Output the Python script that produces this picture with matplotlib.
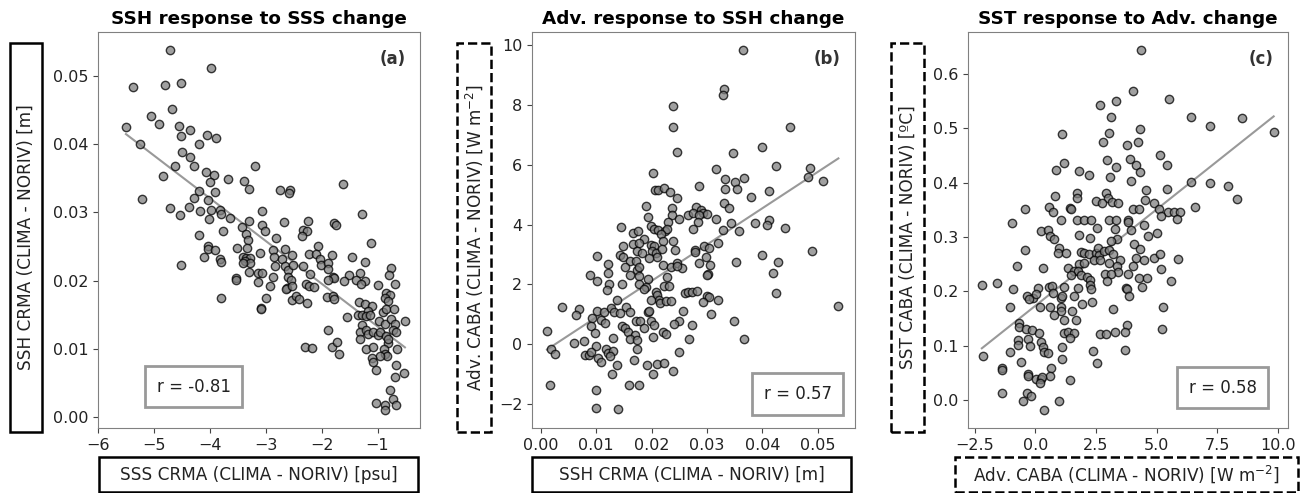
import numpy as np
import matplotlib
matplotlib.use('Agg')
from matplotlib import pyplot as plt
from matplotlib.patches import Rectangle

# panel (a): SSS CRMA vs SSH CRMA
sss_a = [-4.72, -3.98, -5.37, -4.81, -4.52, -4.68, -5.50, -5.06, -4.91, -4.55, -4.35, -4.51, -4.05, -3.89,
         -5.25, -4.20, -4.50, -4.35, -4.28, -4.62, -3.20, -4.83, -4.07, -3.92, -4.00, -3.67, -3.39, -5.21,
         -4.19, -4.29, -4.03, -3.91, -3.29, -2.75, -2.56, -2.58, -1.61, -4.71, -4.53, -4.37, -4.17, -3.98,
         -3.82, -3.80, -4.01, -3.64, -3.07, -1.27, -3.77, -3.42, -3.30, -3.06, -3.02, -2.68, -2.24, -1.78,
         -1.75, -2.34, -2.26, -4.20, -3.36, -3.32, -2.81, -2.35, -1.12, -4.03, -4.03, -3.91, -3.52, -3.34,
         -4.10, -3.81, -3.80, -4.51, -3.41, -3.35, -3.28, -3.11, -2.87, -2.65, -2.53, -2.07, -2.22, -2.10,
         -2.03, -1.81, -1.45, -1.23, -3.37, -3.28, -3.40, -2.85, -2.70, -2.83, -2.65, -2.61, -2.51, -2.34,
         -2.01, -1.88, -3.29, -3.13, -3.07, -3.54, -3.54, -2.87, -2.61, -2.54, -2.20, -1.88, -1.79, -1.77,
         -1.51, -1.60, -1.32, -1.39, -1.23, -1.29, -3.13, -2.93, -2.62, -2.63, -2.53, -2.28, -2.22, -2.13,
         -1.88, -1.00, -0.75, -0.79, -0.68, -3.80, -3.00, -2.53, -2.46, -2.40, -2.27, -1.91, -1.79, -1.77,
         -3.09, -3.08, -1.33, -1.23, -1.10, -0.85, -0.77, -0.87, -0.81, -1.55, -1.35, -1.27, -1.17, -1.20,
         -1.14, -0.90, -0.84, -0.70, -0.97, -0.87, -0.75, -0.68, -0.51, -1.27, -1.32, -1.21, -1.17, -1.08,
         -1.00, -0.96, -0.84, -0.73, -0.67, -0.82, -0.89, -0.66, -1.21, -1.08, -0.87, -0.83, -0.95, -1.89,
         -1.82, -1.73, -1.69, -2.29, -2.18, -1.10, -1.08, -1.03, -0.67, -0.68, -0.53, -0.78, -1.03, -0.87,
         -0.86, -0.72, -0.67, -1.32, -0.81]
ssh_a = [0.0538, 0.0511, 0.0483, 0.0487, 0.0490, 0.0451, 0.0425, 0.0441, 0.0429, 0.0426, 0.0421, 0.0411,
         0.0413, 0.0409, 0.0400, 0.0400, 0.0388, 0.0381, 0.0368, 0.0368, 0.0368, 0.0353, 0.0359, 0.0354,
         0.0344, 0.0349, 0.0346, 0.0319, 0.0331, 0.0321, 0.0318, 0.0329, 0.0334, 0.0332, 0.0332, 0.0328,
         0.0341, 0.0306, 0.0296, 0.0307, 0.0302, 0.0303, 0.0303, 0.0298, 0.0290, 0.0292, 0.0302, 0.0298,
         0.0272, 0.0279, 0.0287, 0.0281, 0.0273, 0.0286, 0.0287, 0.0284, 0.0281, 0.0274, 0.0272, 0.0266,
         0.0268, 0.0259, 0.0262, 0.0265, 0.0255, 0.0250, 0.0246, 0.0244, 0.0248, 0.0248, 0.0234, 0.0231,
         0.0227, 0.0223, 0.0235, 0.0233, 0.0233, 0.0240, 0.0245, 0.0246, 0.0238, 0.0250, 0.0239, 0.0239,
         0.0231, 0.0238, 0.0234, 0.0227, 0.0228, 0.0226, 0.0226, 0.0235, 0.0231, 0.0222, 0.0221, 0.0215,
         0.0223, 0.0221, 0.0223, 0.0226, 0.0213, 0.0211, 0.0211, 0.0204, 0.0201, 0.0205, 0.0205, 0.0201,
         0.0209, 0.0217, 0.0205, 0.0204, 0.0208, 0.0200, 0.0211, 0.0201, 0.0200, 0.0195, 0.0198, 0.0192,
         0.0189, 0.0187, 0.0192, 0.0195, 0.0192, 0.0190, 0.0201, 0.0194, 0.0219, 0.0208, 0.0195, 0.0175,
         0.0175, 0.0172, 0.0178, 0.0173, 0.0167, 0.0176, 0.0178, 0.0173, 0.0160, 0.0159, 0.0169, 0.0166,
         0.0162, 0.0182, 0.0179, 0.0175, 0.0170, 0.0146, 0.0149, 0.0150, 0.0156, 0.0148, 0.0150, 0.0154,
         0.0159, 0.0158, 0.0140, 0.0137, 0.0143, 0.0137, 0.0141, 0.0135, 0.0124, 0.0127, 0.0121, 0.0125,
         0.0120, 0.0124, 0.0119, 0.0127, 0.0125, 0.0109, 0.0100, 0.0100, 0.0099, 0.0102, 0.0093, 0.0090,
         0.0090, 0.0128, 0.0103, 0.0110, 0.0092, 0.0103, 0.0101, 0.0087, 0.0080, 0.0069, 0.0077, 0.0058,
         0.0064, 0.0039, 0.0020, 0.0017, 0.0011, 0.0026, 0.0017, 0.0114, 0.0114]

# panel (b): SSH CRMA vs Adv. CABA
ssh_b = [0.0364, 0.0331, 0.0328, 0.0239, 0.0239, 0.0450, 0.0245, 0.0346, 0.0399, 0.0203, 0.0317, 0.0425,
         0.0486, 0.0482, 0.0510, 0.0333, 0.0366, 0.0351, 0.0354, 0.0333, 0.0411, 0.0206, 0.0212, 0.0222,
         0.0233, 0.0246, 0.0285, 0.0380, 0.0330, 0.0339, 0.0190, 0.0237, 0.0280, 0.0289, 0.0293, 0.0299,
         0.0266, 0.0274, 0.0286, 0.0194, 0.0236, 0.0249, 0.0316, 0.0412, 0.0343, 0.0387, 0.0408, 0.0440,
         0.0230, 0.0284, 0.0198, 0.0204, 0.0211, 0.0224, 0.0228, 0.0275, 0.0329, 0.0358, 0.0145, 0.0167,
         0.0175, 0.0217, 0.0187, 0.0167, 0.0177, 0.0199, 0.0205, 0.0220, 0.0239, 0.0243, 0.0148, 0.0174,
         0.0182, 0.0201, 0.0207, 0.0209, 0.0219, 0.0278, 0.0279, 0.0294, 0.0304, 0.0320, 0.0399, 0.0490,
         0.0102, 0.0143, 0.0148, 0.0195, 0.0298, 0.0285, 0.0305, 0.0353, 0.0428, 0.0121, 0.0161, 0.0171,
         0.0152, 0.0174, 0.0177, 0.0220, 0.0235, 0.0246, 0.0254, 0.0245, 0.0089, 0.0101, 0.0122, 0.0161,
         0.0178, 0.0193, 0.0227, 0.0301, 0.0299, 0.0419, 0.0123, 0.0146, 0.0177, 0.0190, 0.0223, 0.0231,
         0.0119, 0.0187, 0.0208, 0.0425, 0.0261, 0.0265, 0.0273, 0.0281, 0.0299, 0.0303, 0.0210, 0.0213,
         0.0198, 0.0215, 0.0225, 0.0234, 0.0293, 0.0319, 0.0137, 0.0153, 0.0039, 0.0068, 0.0064, 0.0102,
         0.0114, 0.0126, 0.0132, 0.0143, 0.0160, 0.0194, 0.0196, 0.0257, 0.0307, 0.0537, 0.0093, 0.0108,
         0.0116, 0.0172, 0.0179, 0.0199, 0.0250, 0.0241, 0.0349, 0.0090, 0.0147, 0.0151, 0.0187, 0.0205,
         0.0272, 0.0098, 0.0157, 0.0170, 0.0203, 0.0221, 0.0225, 0.0268, 0.0366, 0.0011, 0.0060, 0.0077,
         0.0131, 0.0161, 0.0173, 0.0099, 0.0080, 0.0087, 0.0091, 0.0118, 0.0122, 0.0130, 0.0124, 0.0103,
         0.0109, 0.0173, 0.0018, 0.0025, 0.0169, 0.0249, 0.0137, 0.0128, 0.0192, 0.0210, 0.0222, 0.0239,
         0.0202, 0.0159, 0.0178, 0.0017, 0.0100, 0.0100, 0.0139]
adv_b = [9.86, 8.55, 8.34, 7.96, 7.26, 7.26, 6.43, 6.41, 6.59, 5.73, 5.86, 5.96, 5.88, 5.59, 5.47, 5.52,
         5.55, 5.43, 5.19, 5.19, 5.14, 5.16, 5.16, 5.21, 5.09, 4.90, 5.31, 4.92, 4.72, 4.54, 4.61, 4.55,
         4.59, 4.50, 4.40, 4.34, 4.31, 4.39, 4.33, 4.26, 4.31, 4.19, 4.20, 4.15, 4.07, 4.04, 3.98, 3.88,
         4.08, 4.08, 3.96, 3.86, 3.82, 3.80, 3.86, 3.84, 3.82, 3.79, 3.91, 3.71, 3.78, 3.69, 3.52, 3.34,
         3.37, 3.32, 3.30, 3.45, 3.45, 3.16, 3.30, 3.13, 3.06, 3.13, 3.06, 2.92, 3.17, 3.14, 3.07, 3.30,
         3.22, 3.37, 2.97, 3.13, 2.96, 2.98, 2.93, 2.87, 2.90, 2.71, 2.65, 2.75, 2.74, 2.68, 2.78, 2.78,
         2.59, 2.48, 2.59, 2.65, 2.59, 2.72, 2.54, 2.63, 2.31, 2.12, 2.37, 2.31, 2.27, 2.17, 2.26, 2.33,
         2.31, 2.39, 2.00, 2.02, 2.00, 1.90, 1.95, 1.93, 1.80, 1.83, 1.75, 1.70, 1.70, 1.74, 1.75, 1.77,
         1.61, 1.59, 1.64, 1.48, 1.47, 1.37, 1.45, 1.45, 1.41, 1.49, 1.48, 1.25, 1.24, 1.17, 0.99, 1.10,
         1.08, 1.21, 1.08, 1.04, 1.07, 1.06, 1.11, 1.10, 1.02, 1.28, 0.86, 0.80, 0.71, 0.78, 0.78, 0.78,
         0.78, 0.67, 0.78, 0.59, 0.59, 0.53, 0.53, 0.63, 0.63, 0.36, 0.39, 0.32, 0.23, 0.39, 0.33, 0.18,
         0.18, 0.45, 0.03, 0.09, 0.22, 0.18, 0.12, -0.08, -0.37, -0.37, -0.26, -0.16, -0.30, -0.23, -0.39,
         -0.48, -0.61, -0.16, -0.16, -0.32, -0.53, -0.27, -0.70, -1.00, -0.70, -0.66, -0.65, -0.90, -1.00,
         -1.38, -1.36, -1.36, -1.54, -2.15, -2.17]

# panel (c): Adv. CABA vs SST CABA
adv_c = [4.35, 4.04, 5.52, 3.34, 2.66, 3.14, 6.40, 8.50, 7.20, 4.32, 1.11, 3.02, 9.82, 2.79, 4.23, 3.78,
         3.89, 2.96, 5.12, 1.17, 4.13, 5.41, 3.34, 0.85, 1.79, 2.22, 4.32, 3.09, 3.96, 6.40, 7.20, 7.93,
         5.44, 4.56, 1.71, 0.80, 1.71, 2.91, 2.98, 2.49, 2.76, 3.17, 3.42, 4.54, 8.31, -0.41, 1.43, 1.47,
         4.02, 4.26, 4.88, 5.08, 0.58, 0.73, 5.48, 5.71, 5.96, 5.85, 6.56, 5.16, -0.95, 1.06, 1.72, 1.99,
         2.31, 3.05, 3.33, 3.80, 3.80, 3.93, 3.27, 2.56, 0.25, 0.53, 0.60, 0.79, 1.82, 2.24, 4.46, 4.65,
         5.00, 3.38, 3.12, 4.08, 4.32, 0.98, 0.93, 1.28, -0.41, 1.90, 2.00, 2.20, 2.50, 2.58, 2.63, 2.82,
         3.02, 3.22, 2.42, 2.65, 3.49, 4.13, 4.49, 4.88, 5.12, 5.87, 3.02, 3.38, 1.79, 1.99, 4.04, -0.75,
         0.33, 1.35, 1.60, 1.78, 3.41, 5.16, 1.47, 1.87, 2.15, 2.89, 3.11, 3.80, 2.24, 2.95, 4.27, 4.60,
         5.59, -2.20, -1.57, -0.92, 0.11, 0.55, 0.71, 1.19, 1.75, 2.27, 2.31, 3.72, 3.78, 4.38, -0.32,
         -0.11, 0.05, -0.25, 0.75, 1.06, 1.09, 3.87, 1.60, -1.03, 0.19, 0.61, 1.06, 1.91, 2.32, 5.27,
         1.04, 0.78, 1.52, 3.22, 1.20, 1.68, -0.66, -0.66, -0.40, -0.14, 3.79, 5.22, 0.14, 1.20, 1.36,
         1.61, 2.66, 2.93, 3.27, 3.71, 1.42, -0.72, -0.29, 0.23, -0.71, -0.20, 0.33, 1.09, -1.03, 0.34,
         0.53, 2.36, 3.71, 1.12, -2.17, 2.53, -0.58, -1.39, -1.39, 0.64, -0.29, -0.29, 0.59, 0.05, 0.22,
         0.29, 1.43, 0.19, -1.35, -0.33, -0.19, -0.49, 0.96, 0.34]
sst_c = [0.644, 0.568, 0.553, 0.551, 0.542, 0.521, 0.521, 0.519, 0.505, 0.498, 0.490, 0.491, 0.494, 0.474,
         0.474, 0.469, 0.443, 0.441, 0.451, 0.436, 0.433, 0.433, 0.428, 0.424, 0.421, 0.415, 0.419, 0.410,
         0.403, 0.401, 0.400, 0.394, 0.389, 0.387, 0.381, 0.376, 0.371, 0.381, 0.372, 0.367, 0.363, 0.365,
         0.362, 0.369, 0.370, 0.352, 0.354, 0.352, 0.352, 0.352, 0.362, 0.352, 0.356, 0.346, 0.347, 0.346,
         0.346, 0.333, 0.356, 0.338, 0.325, 0.332, 0.332, 0.332, 0.332, 0.332, 0.332, 0.332, 0.328, 0.313,
         0.314, 0.316, 0.311, 0.313, 0.302, 0.297, 0.304, 0.299, 0.323, 0.302, 0.308, 0.296, 0.293, 0.288,
         0.278, 0.280, 0.270, 0.271, 0.276, 0.273, 0.270, 0.268, 0.270, 0.279, 0.267, 0.275, 0.276, 0.269,
         0.258, 0.257, 0.258, 0.261, 0.257, 0.261, 0.268, 0.260, 0.252, 0.247, 0.250, 0.252, 0.247, 0.246,
         0.243, 0.243, 0.238, 0.238, 0.236, 0.242, 0.230, 0.230, 0.227, 0.232, 0.232, 0.232, 0.221, 0.219,
         0.224, 0.225, 0.219, 0.212, 0.216, 0.204, 0.206, 0.208, 0.210, 0.209, 0.206, 0.212, 0.204, 0.206,
         0.204, 0.208, 0.192, 0.188, 0.195, 0.186, 0.197, 0.188, 0.191, 0.191, 0.191, 0.172, 0.172, 0.171,
         0.172, 0.177, 0.180, 0.172, 0.164, 0.156, 0.165, 0.167, 0.148, 0.148, 0.142, 0.134, 0.131, 0.130,
         0.138, 0.131, 0.124, 0.123, 0.125, 0.123, 0.121, 0.121, 0.125, 0.126, 0.114, 0.111, 0.113, 0.108,
         0.101, 0.099, 0.097, 0.097, 0.089, 0.089, 0.087, 0.090, 0.093, 0.076, 0.082, 0.069, 0.070, 0.059,
         0.056, 0.059, 0.049, 0.045, 0.045, 0.039, 0.039, 0.042, 0.038, 0.032, 0.013, 0.014, 0.007, -0.002,
         -0.002, -0.018]

titles = ['SSH response to SSS change', 'Adv. response to SSH change', 'SST response to Adv. change']
panel_tags = ['(a)', '(b)', '(c)']
r_labels = ['r = -0.81', 'r = 0.57', 'r = 0.58']
xlabels = ['SSS CRMA (CLIMA - NORIV) [psu]', 'SSH CRMA (CLIMA - NORIV) [m]',
           'Adv. CABA (CLIMA - NORIV) [W m$^{-2}$]']
ylabels = ['SSH CRMA (CLIMA - NORIV) [m]', 'Adv. CABA (CLIMA - NORIV) [W m$^{-2}$]',
           'SST CABA (CLIMA - NORIV) [ºC]']

W, H = 1306, 493
fig = plt.figure(figsize=(W / 100, H / 100), dpi=100)

# axes boxes in pixels: left, top, right, bottom
ax_px = [(98, 32, 420, 428), (532, 32, 855, 428), (968, 32, 1288, 428)]
ylab_px = [(10, 43, 42, 432), (457, 43, 491, 432), (891, 43, 924, 432)]
xlab_px = [(99, 457, 418, 492), (532, 457, 851, 492), (955, 457, 1298, 492)]
ylab_ls = ['-', '--', '--']
xlab_ls = ['-', '-', '--']
r_pos = [(0.297, 0.104), (0.823, 0.086), (0.796, 0.102)]
xlims = [(-6.0, -0.24), (-0.0016, 0.0567), (-2.77, 10.41)]
ylims = [(-0.0016, 0.0564), (-2.81, 10.45), (-0.051, 0.677)]
xticks = [[-6, -5, -4, -3, -2, -1], [0, 0.01, 0.02, 0.03, 0.04, 0.05], [-2.5, 0, 2.5, 5, 7.5, 10]]
yticks = [[0, 0.01, 0.02, 0.03, 0.04, 0.05], [-2, 0, 2, 4, 6, 8, 10], [0, 0.1, 0.2, 0.3, 0.4, 0.5, 0.6]]
xfmt = ['%d', '%.2f', '%.1f']
yfmt = ['%.2f', '%d', '%.1f']

data = [(sss_a, ssh_a), (ssh_b, adv_b), (adv_c, sst_c)]


def px_rect(r):
    l, t, rr, b = r
    return [l / W, 1 - b / H, (rr - l) / W, (b - t) / H]


def fmt(f, v):
    return (f % v).replace('-', '\u2212')


for i in range(3):
    ax = fig.add_axes(px_rect(ax_px[i]))
    x = np.array(data[i][0])
    y = np.array(data[i][1])
    ax.scatter(x, y, s=36, facecolor='gray', edgecolor='k', alpha=0.75, linewidths=1, zorder=3)
    p = np.polyfit(x, y, 1)
    xx = np.array([x.min(), x.max()])
    ax.plot(xx, np.polyval(p, xx), color='#999999', lw=1.5, zorder=2)
    ax.set_xlim(xlims[i])
    ax.set_ylim(ylims[i])
    ax.set_xticks(xticks[i])
    ax.set_yticks(yticks[i])
    ax.set_xticklabels([fmt(xfmt[i], v) for v in xticks[i]])
    ax.set_yticklabels([fmt(yfmt[i], v) for v in yticks[i]])
    ax.tick_params(labelsize=11.5, color='#444444', labelcolor='#222222')
    for s in ax.spines.values():
        s.set_color('#808080')
    ax.set_title(titles[i], fontsize=13.2, fontweight='bold', pad=6)
    ax.text(0.955, 0.955, panel_tags[i], transform=ax.transAxes, ha='right', va='top',
            fontsize=12, fontweight='bold', color='#333333')
    ax.text(r_pos[i][0], r_pos[i][1], r_labels[i], transform=ax.transAxes, ha='center', va='center',
            fontsize=12, color='#222222',
            bbox=dict(boxstyle='square,pad=0.7', facecolor='white', edgecolor='#999999', linewidth=2))

    # label boxes
    for rect, ls, txt, rot in [(ylab_px[i], ylab_ls[i], ylabels[i], 90), (xlab_px[i], xlab_ls[i], xlabels[i], 0)]:
        l, b, w, h = px_rect(rect)
        fig.patches.append(Rectangle((l, b), w, h, transform=fig.transFigure, fill=False,
                                     edgecolor='k', linewidth=1.8, linestyle=ls))
        fig.text(l + w / 2, b + h / 2, txt, rotation=rot, ha='center', va='center',
                 fontsize=12.2, color='#222222')

fig.savefig('out.png', dpi=100)
